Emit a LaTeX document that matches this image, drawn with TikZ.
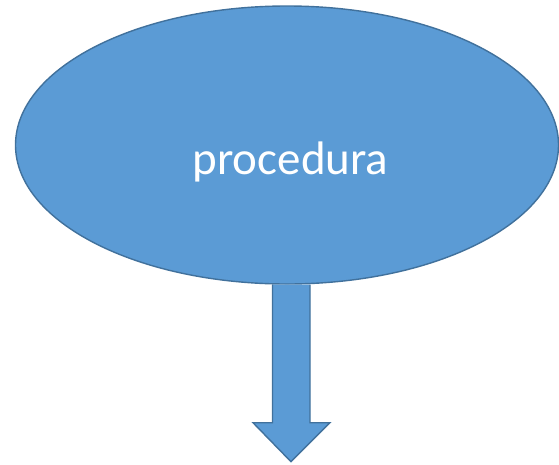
\documentclass[tikz,border=0pt]{standalone}
\usepackage{fontspec}
\setmainfont{Carlito}
\usetikzlibrary{shapes.geometric,positioning}

\definecolor{officeblue}{RGB}{91,155,213}
\definecolor{officeline}{RGB}{65,113,156}

\tikzset{
  shapefill/.style={fill=officeblue, draw=officeline, line width=1.4pt, line join=miter},
  procstyle/.style={shapefill, ellipse, minimum width=543pt, minimum height=278pt, inner sep=0pt},
  labelstyle/.style={text=white, font=\fontsize{47}{56}\selectfont, inner sep=0pt}
}

\begin{document}
\begin{tikzpicture}[x=1pt, y=-1pt]

  \useasboundingbox (0,0) rectangle (559,464);

  % Ellipse with the text
  \node[procstyle] (proc) at (287,145) {};
  \node[labelstyle, anchor=base] (procname) at ([xshift=3.5pt,yshift=-29pt]proc.center) {procedura};

  % Block arrow going down
  \coordinate (tip) at ([xshift=4pt,yshift=-177pt]proc.south);
  \draw[shapefill]
    ([xshift=-14.5pt]proc.south) -- ([xshift=-14.5pt,yshift=-138pt]proc.south)
    -- ([xshift=-34pt,yshift=-138pt]proc.south) -- (tip)
    -- ([xshift=43pt,yshift=-138pt]proc.south) -- ([xshift=23pt,yshift=-138pt]proc.south)
    -- ([xshift=23pt]proc.south);

\end{tikzpicture}
\end{document}
